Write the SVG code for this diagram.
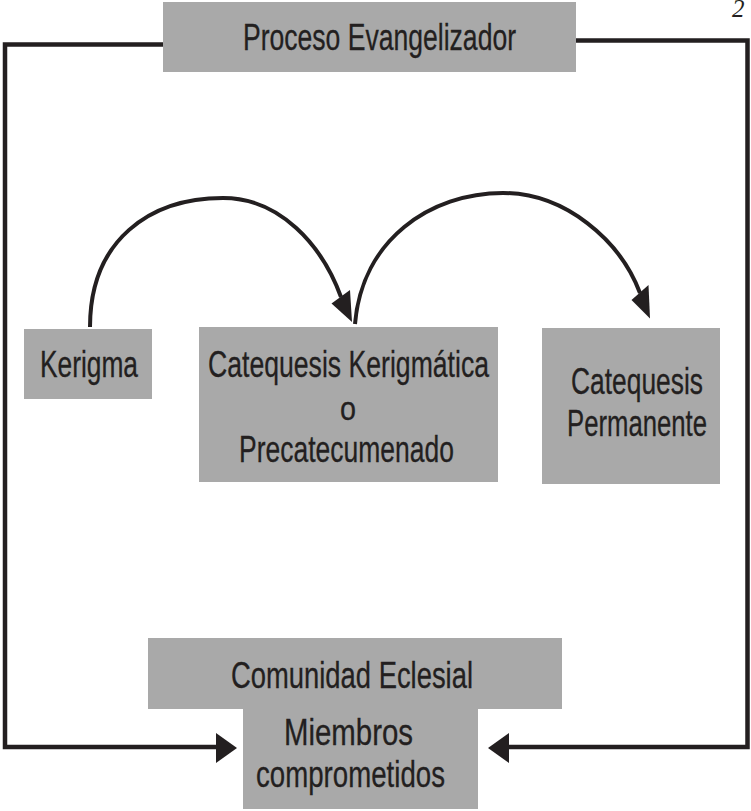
<svg xmlns="http://www.w3.org/2000/svg" width="751" height="811" viewBox="0 0 751 811">
<style>
.box{fill:#a9a9a9}
.t{font-family:"Liberation Sans",Arial,sans-serif;font-size:36px;fill:#231f20;stroke:#231f20;stroke-width:0.3}
.ln{fill:none;stroke:#231f20;stroke-width:4.5}
.arc{fill:none;stroke:#231f20;stroke-width:4}
.hd{fill:#231f20}
</style>
<rect width="751" height="811" fill="#ffffff"/>
<text x="732" y="17" style="font-family:'Liberation Serif','Times New Roman',serif;font-style:italic;font-size:25px;fill:#231f20">2</text>
<g id="connectors">
<polyline class="ln" points="163,44.5 5,44.5 5,747 218,747"/>
<polygon class="hd" points="237,748 216,733 216,763"/>
<polyline class="ln" points="576,40.5 747.5,40.5 747.5,747 506,747"/>
<polygon class="hd" points="488,748 509,733 509,763"/>
<path class="arc" d="M90,327 C90,240 150,198 223,198 C280,198 322,245 341,297"/>
<polygon class="hd" points="352,322 331.5,303.5 350,290"/>
<path class="arc" d="M355,324 C362,240 430,193 503,193 C565,193 620,240 640,293"/>
<polygon class="hd" points="650,318.5 631.5,300 648.5,285"/>
</g>
<g id="proceso">
<rect class="box" x="163" y="2" width="413" height="70"/>
<text class="t" x="243" y="49.5" style="font-size:37px" textLength="273" lengthAdjust="spacingAndGlyphs">Proceso Evangelizador</text>
</g>
<g id="kerigma">
<rect class="box" x="24" y="329" width="128" height="70"/>
<text class="t" x="40" y="377" textLength="98" lengthAdjust="spacingAndGlyphs">Kerigma</text>
</g>
<g id="catequesis-kerigmatica">
<rect class="box" x="199" y="327" width="299" height="155"/>
<text class="t" x="208" y="377" textLength="281" lengthAdjust="spacingAndGlyphs">Catequesis Kerigmática</text>
<text class="t" x="340" y="420" style="font-size:34px" textLength="16" lengthAdjust="spacingAndGlyphs">o</text>
<text class="t" x="239" y="462" textLength="215" lengthAdjust="spacingAndGlyphs">Precatecumenado</text>
</g>
<g id="catequesis-permanente">
<rect class="box" x="542" y="328" width="178" height="156"/>
<text class="t" x="571" y="394" textLength="132" lengthAdjust="spacingAndGlyphs">Catequesis</text>
<text class="t" x="567" y="436" textLength="140" lengthAdjust="spacingAndGlyphs">Permanente</text>
</g>
<g id="comunidad">
<rect class="box" x="148" y="638" width="414" height="71"/>
<rect class="box" x="243" y="708" width="235" height="101"/>
<text class="t" x="231" y="688" textLength="242" lengthAdjust="spacingAndGlyphs">Comunidad Eclesial</text>
<text class="t" x="284" y="745" textLength="129" lengthAdjust="spacingAndGlyphs">Miembros</text>
<text class="t" x="256" y="787" textLength="189" lengthAdjust="spacingAndGlyphs">comprometidos</text>
</g>
</svg>
